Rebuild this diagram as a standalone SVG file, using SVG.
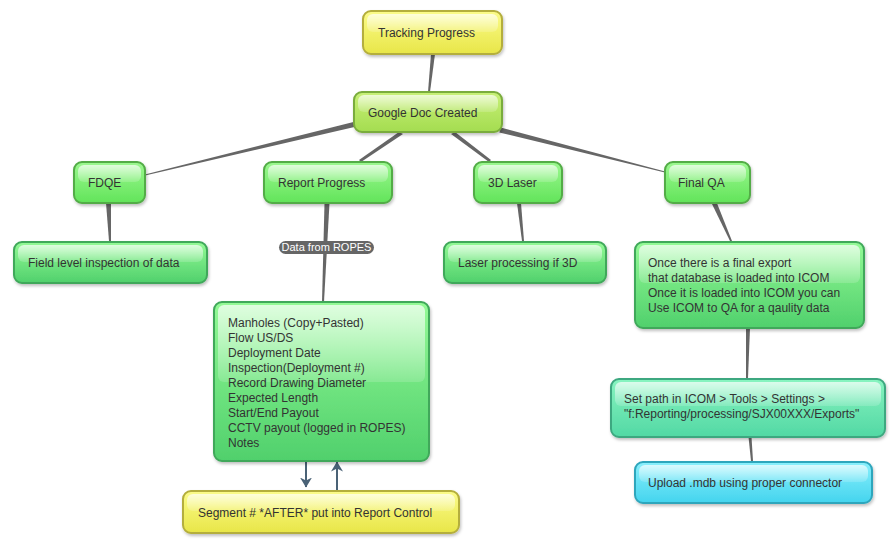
<svg xmlns="http://www.w3.org/2000/svg" width="895" height="545" viewBox="0 0 895 545">
<defs>
<linearGradient id="gY" x1="0" y1="0" x2="0" y2="1"><stop offset="0" stop-color="#fbfb8a"/><stop offset="1" stop-color="#e8e648"/></linearGradient>
<linearGradient id="gL" x1="0" y1="0" x2="0" y2="1"><stop offset="0" stop-color="#c8f078"/><stop offset="1" stop-color="#a4dc50"/></linearGradient>
<linearGradient id="gG" x1="0" y1="0" x2="0" y2="1"><stop offset="0" stop-color="#9cf890"/><stop offset="1" stop-color="#62e45a"/></linearGradient>
<linearGradient id="gG2" x1="0" y1="0" x2="0" y2="1"><stop offset="0" stop-color="#94fa96"/><stop offset="1" stop-color="#50d06c"/></linearGradient>
<linearGradient id="gT" x1="0" y1="0" x2="0" y2="1"><stop offset="0" stop-color="#88f4c0"/><stop offset="1" stop-color="#52d8a4"/></linearGradient>
<linearGradient id="gC" x1="0" y1="0" x2="0" y2="1"><stop offset="0" stop-color="#8af0fc"/><stop offset="1" stop-color="#44d4ee"/></linearGradient>
<linearGradient id="gloss" x1="0" y1="0" x2="0" y2="1"><stop offset="0" stop-color="#ffffff" stop-opacity="0.7"/><stop offset="1" stop-color="#ffffff" stop-opacity="0.15"/></linearGradient>
<filter id="sh" x="-10%" y="-10%" width="120%" height="130%"><feDropShadow dx="1" dy="2" stdDeviation="1.5" flood-color="#000" flood-opacity="0.25"/></filter>
<marker id="ah" viewBox="0 0 10 14" refX="9.5" refY="7" markerWidth="10" markerHeight="14" markerUnits="userSpaceOnUse" orient="auto"><path d="M0,1 L10,7 L0,13 L3,7 z" fill="#4a6276"/></marker>
</defs>
<style>
.n{stroke-width:2;filter:url(#sh)}
.y{fill:url(#gY);stroke:#b4ae3c}
.l{fill:url(#gL);stroke:#7aac3c}
.g{fill:url(#gG);stroke:#52ac46}
.g2{fill:url(#gG2);stroke:#3fa85a}
.t{fill:url(#gT);stroke:#3ea880}
.c{fill:url(#gC);stroke:#2ea6bc}
.gl{fill:url(#gloss);stroke:none}
text{font-family:"Liberation Sans",Arial,sans-serif;font-size:12px;fill:#333}
.cn{fill:#666}
.ar{stroke:#4a6276;stroke-width:2;fill:none;marker-end:url(#ah)}
</style>
<rect width="895" height="545" fill="#ffffff"/>
<g id="connectors">
<polygon class="cn" points="431,54 435,54 430,92 428,92"/>
<polygon class="cn" points="355.4,121.6 144.9,174.5 145.1,175.5 356.6,126.4"/>
<polygon class="cn" points="399,132 403,134 361,162 359,160"/>
<polygon class="cn" points="451,134 455,132 491,160 489,162"/>
<polygon class="cn" points="500.7,127.6 665.1,171.5 664.9,172.5 499.3,132.4"/>
<polygon class="cn" points="106,203 111,203 111,241 109,241"/>
<polygon class="cn" points="324.5,203 329.5,203 324,302 322,302"/>
<polygon class="cn" points="517,203 521,203 524,241 522,241"/>
<polygon class="cn" points="711.5,203 716.5,202 732,241 730,241"/>
<polygon class="cn" points="746,328 750,328 748,378 746,378"/>
<polygon class="cn" points="748.5,437 751.5,437 753,461 751,461"/>
<rect x="279" y="241" width="95" height="13" rx="6.5" fill="#666"/>
<text x="326.5" y="251" text-anchor="middle" style="fill:#fff;font-size:11px">Data from ROPES</text>
<line class="ar" x1="306" y1="461" x2="306" y2="487"/>
<line class="ar" x1="337" y1="490" x2="337" y2="462"/>
</g>
<g id="n-tracking"><rect class="n y" x="363" y="11" width="139" height="43" rx="8"/><rect class="gl" x="367" y="14" width="131" height="18" rx="6"/><text x="378" y="37">Tracking Progress</text></g>
<g id="n-google"><rect class="n l" x="354" y="92" width="148" height="40" rx="8"/><rect class="gl" x="358" y="95" width="140" height="17" rx="6"/><text x="368" y="117">Google Doc Created</text></g>
<g id="n-fdqe"><rect class="n g" x="74" y="162" width="71" height="41" rx="8"/><rect class="gl" x="78" y="165" width="63" height="17" rx="6"/><text x="88" y="187">FDQE</text></g>
<g id="n-report"><rect class="n g" x="264" y="162" width="128" height="41" rx="8"/><rect class="gl" x="268" y="165" width="120" height="17" rx="6"/><text x="278" y="187">Report Progress</text></g>
<g id="n-laser3d"><rect class="n g" x="474" y="162" width="88" height="41" rx="8"/><rect class="gl" x="478" y="165" width="80" height="17" rx="6"/><text x="488" y="187">3D Laser</text></g>
<g id="n-finalqa"><rect class="n g" x="665" y="162" width="85" height="41" rx="8"/><rect class="gl" x="669" y="165" width="77" height="17" rx="6"/><text x="678" y="187">Final QA</text></g>
<g id="n-field"><rect class="n g2" x="14" y="242" width="193" height="41" rx="8"/><rect class="gl" x="18" y="245" width="185" height="17" rx="6"/><text x="28" y="267">Field level inspection of data</text></g>
<g id="n-laserproc"><rect class="n g2" x="444" y="242" width="162" height="41" rx="8"/><rect class="gl" x="448" y="245" width="154" height="17" rx="6"/><text x="458" y="267">Laser processing if 3D</text></g>
<g id="n-once"><rect class="n g2" x="635" y="242" width="229" height="86" rx="8"/><rect class="gl" x="639" y="245" width="221" height="38" rx="6"/>
<text x="648" y="267">Once there is a final export</text><text x="648" y="282">that database is loaded into ICOM</text><text x="648" y="297">Once it is loaded into ICOM you can</text><text x="648" y="312">Use ICOM to QA for a qaulity data</text></g>
<g id="n-setpath"><rect class="n t" x="611" y="379" width="274" height="58" rx="8"/><rect class="gl" x="615" y="382" width="266" height="24" rx="6"/>
<text x="624" y="403">Set path in ICOM &gt; Tools &gt; Settings &gt;</text><text x="624" y="418">"f:Reporting/processing/SJX00XXX/Exports"</text></g>
<g id="n-upload"><rect class="n c" x="635" y="462" width="237" height="41" rx="8"/><rect class="gl" x="639" y="465" width="229" height="17" rx="6"/><text x="648" y="487">Upload .mdb using proper connector</text></g>
<g id="n-manholes"><rect class="n g2" x="214" y="302" width="215" height="159" rx="8"/><rect class="gl" x="218" y="305" width="207" height="77" rx="6"/>
<text x="228" y="327">Manholes (Copy+Pasted)</text><text x="228" y="342">Flow US/DS</text><text x="228" y="357">Deployment Date</text><text x="228" y="372">Inspection(Deployment #)</text><text x="228" y="387">Record Drawing Diameter</text><text x="228" y="402">Expected Length</text><text x="228" y="417">Start/End Payout</text><text x="228" y="432">CCTV payout (logged in ROPES)</text><text x="228" y="447">Notes</text></g>
<g id="n-segment"><rect class="n y" x="183" y="491" width="276" height="42" rx="8"/><rect class="gl" x="187" y="494" width="268" height="17" rx="6"/><text x="198" y="517">Segment # *AFTER* put into Report Control</text></g>
</svg>
